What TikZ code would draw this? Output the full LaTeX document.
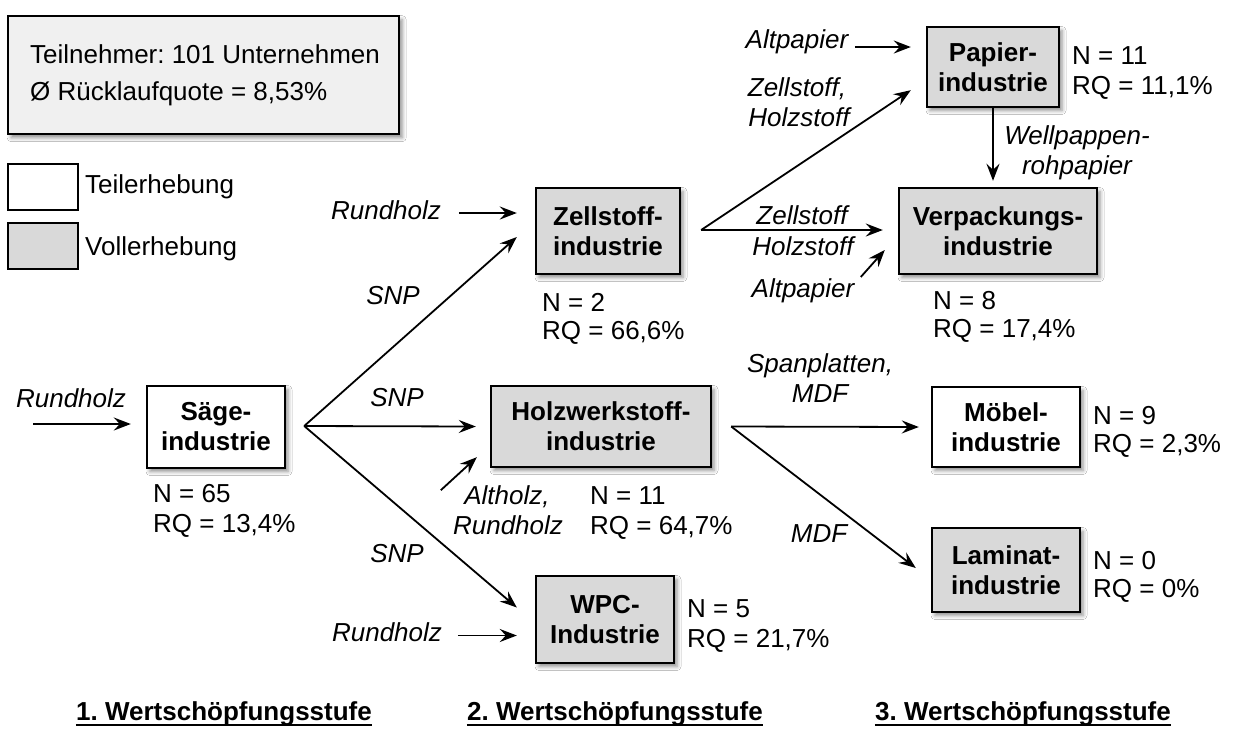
\documentclass[tikz,border=0pt]{standalone}
\usepackage{fontspec}
\setmainfont{Liberation Sans}
\usetikzlibrary{arrows.meta,calc,shadows.blur}
\definecolor{boxgray}{HTML}{D9D9D9}
\definecolor{infogray}{HTML}{F0F0F0}
\frenchspacing

\begin{document}
\begin{tikzpicture}[x=1pt,y=-1pt,
  every node/.style={font=\fontsize{26}{30}\selectfont, inner sep=0pt},
  box/.style={draw, line width=2.4pt, align=center,
    font=\fontsize{26}{30}\selectfont\bfseries,
    blur shadow={shadow xshift=3pt, shadow yshift=-3.5pt, shadow blur radius=4pt, shadow opacity=45}},
  full/.style={box, fill=boxgray},
  part/.style={box, fill=white},
  lbl/.style={anchor=base, font=\fontsize{26}{30}\selectfont\itshape},
  stat/.style={anchor=base west},
  flow/.style={line width=1.8pt, -{Stealth[length=17pt,width=13pt,inset=6pt]}},
  legendbox/.style={draw, line width=2.4pt, minimum width=70, minimum height=46, anchor=north west},
  stage/.style={anchor=base, font=\fontsize{26}{30}\selectfont\bfseries},
  stageline/.style={line width=2pt},
]
\fill[white] (0,0) rectangle (1235,729);
\useasboundingbox (0,0) rectangle (1235,729);

% summary box
\node[draw, line width=2.4pt, fill=infogray, minimum width=391, minimum height=118, anchor=north west,
  blur shadow={shadow xshift=3pt, shadow yshift=-3.5pt, shadow blur radius=4pt, shadow opacity=45}] (info) at (7,15) {};
\node[stat] (info1) at (30,63) {Teilnehmer: 101 Unternehmen};
\node[stat] (info2) at (30,100) {Ø Rücklaufquote = 8,53\%};

% legend
\node[legendbox, fill=white] (legpart) at (7,163) {};
\node[stat] (legpartt) at (85,193) {Teilerhebung};
\node[legendbox, fill=boxgray] (legfull) at (7,222) {};
\node[stat] (legfullt) at (85,255) {Vollerhebung};

% industries
\node[part, minimum width=138, minimum height=82] (saege) at (216,427) {Säge-\\industrie};
\node[full, minimum width=144, minimum height=86] (zell) at (608,231) {Zellstoff-\\industrie};
\node[full, minimum width=220, minimum height=81] (holz) at (601,426.5) {Holzwerkstoff-\\industrie};
\node[full, minimum width=138, minimum height=87] (wpc) at (605,619.5) {WPC-\\Industrie};
\node[full, minimum width=132, minimum height=80] (papier) at (993,67) {Papier-\\industrie};
\node[full, minimum width=198, minimum height=86] (verp) at (998,231) {Verpackungs-\\industrie};
\node[part, minimum width=148, minimum height=80] (moebel) at (1006,427) {Möbel-\\industrie};
\node[full, minimum width=148, minimum height=84] (laminat) at (1006,570) {Laminat-\\industrie};

% survey figures
\node[stat] (saegeN) at (153,502) {N = 65};
\node[stat] (saegeR) at (153,532) {RQ = 13,4\%};
\node[stat] (zellN) at (542,311) {N = 2};
\node[stat] (zellR) at (542,339) {RQ = 66,6\%};
\node[stat] (holzN) at (590,504) {N = 11};
\node[stat] (holzR) at (590,534) {RQ = 64,7\%};
\node[stat] (wpcN) at (687,617) {N = 5};
\node[stat] (wpcR) at (687,647) {RQ = 21,7\%};
\node[stat] (papierN) at (1072,64) {N = 11};
\node[stat] (papierR) at (1072,94) {RQ = 11,1\%};
\node[stat] (verpN) at (933,309) {N = 8};
\node[stat] (verpR) at (933,337) {RQ = 17,4\%};
\node[stat] (moebelN) at (1093,424) {N = 9};
\node[stat] (moebelR) at (1093,452) {RQ = 2,3\%};
\node[stat] (laminatN) at (1093,569) {N = 0};
\node[stat] (laminatR) at (1093,597) {RQ = 0\%};

% branching points
\coordinate (sfan) at ($(saege.east)+(18,-1)$);
\coordinate (zfan) at ($(zell.east)+(20,-1)$);
\coordinate (hfan) at ($(holz.east)+(19,0)$);

% raw material inputs
\node[lbl] (rhsaege) at (71,407) {Rundholz};
\coordinate (rhsaegeA) at (33,424);
\draw[flow] (rhsaegeA) -- ($(saege.west)+(-15,-3)$);

\node[lbl] (rhzell) at (386,219) {Rundholz};
\draw[flow] ($(zell.west)+(-76,-18)$) -- ($(zell.west)+(-18,-18)$);

\node[lbl] (rhwpc) at (387,641) {Rundholz};
\draw[flow] ($(wpc.west)+(-77,16)$) -- ($(wpc.west)+(-18,16)$);

\node[lbl] (altholz1) at (507,504) {Altholz,};
\node[lbl] (altholz2) at (508,534) {Rundholz};
\draw[flow] ($(holz.south west)+(-49,22)$) -- ($(holz.south west)+(-13,-11)$);

\node[lbl] (apoben) at (797,48) {Altpapier};
\draw[flow] ($(papier.west)+(-71,-20)$) -- ($(papier.west)+(-15,-20)$);

\node[lbl] (apunten) at (803,297) {Altpapier};
\draw[flow] ($(verp.west)+(-37,46)$) -- ($(verp.west)+(-13,19)$);

% flows from the sawmills
\draw[flow] (sfan) -- ($(zell.west)+(-18,6)$);
\draw[flow] (sfan) -- ($(holz.west)+(-14,0)$);
\draw[flow] (sfan) -- ($(wpc.west)+(-18,-12)$);
\node[lbl] (snp1) at (393,304) {SNP};
\node[lbl] (snp2) at (397,406) {SNP};
\node[lbl] (snp3) at (397,562) {SNP};

% flows from pulp production
\draw[flow] (zfan) -- ($(papier.south west)+(-15,-18)$);
\draw[flow] (zfan) -- ($(verp.west)+(-15,-1)$);
\node[lbl] (zh1) at (797,96) {Zellstoff,};
\node[lbl] (zh2) at (799,126) {Holzstoff};
\node[lbl] (zh3) at (802,224) {Zellstoff};
\node[lbl] (zh4) at (803,255) {Holzstoff};

% paper to packaging
\draw[flow, shorten >=6pt] (papier.south) -- (papier.south |- verp.north);
\node[lbl] (wp1) at (1077,144) {Wellpappen-};
\node[lbl] (wp2) at (1077,174) {rohpapier};

% flows from wood-based panels
\draw[flow] (hfan) -- ($(moebel.west)+(-12,0)$);
\draw[flow] (hfan) -- ($(laminat.west)+(-15,-2)$);
\node[lbl] (sp1) at (820,372) {Spanplatten,};
\node[lbl] (sp2) at (820,402) {MDF};
\node[lbl] (mdf) at (819,542) {MDF};

% value-added stages, underlined
\node[stage] (stufe1) at (224,720) {1. Wertschöpfungsstufe};
\node[stage] (stufe2) at (615,720) {2. Wertschöpfungsstufe};
\node[stage] (stufe3) at (1023,720) {3. Wertschöpfungsstufe};
\foreach \s in {stufe1,stufe2,stufe3}
  \draw[stageline] ([yshift=-5pt]\s.base west) -- ([yshift=-5pt]\s.base east);
\end{tikzpicture}
\end{document}
